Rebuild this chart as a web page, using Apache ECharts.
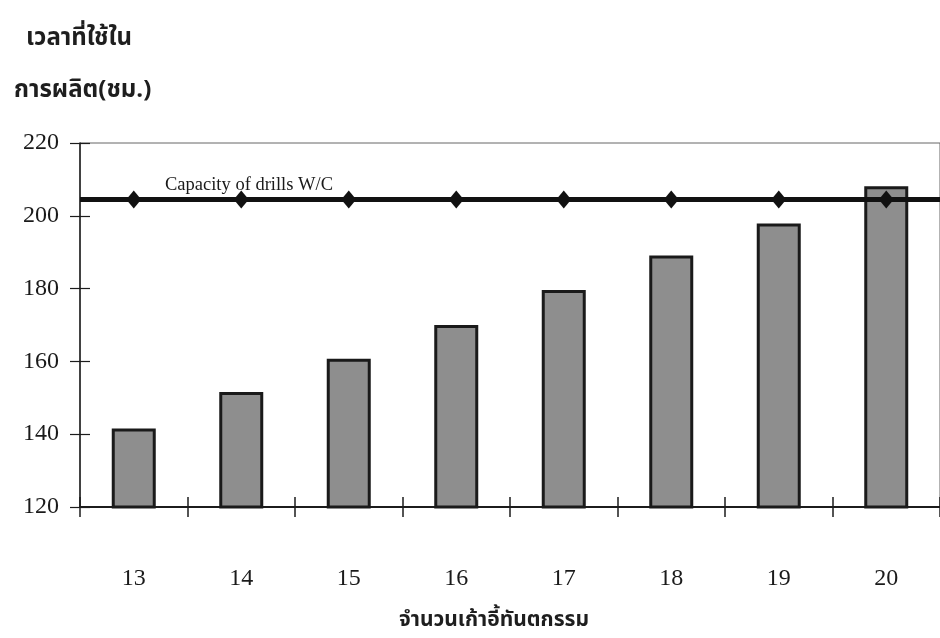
<!DOCTYPE html>
<html>
<head>
<meta charset="utf-8">
<script src="https://cdn.jsdelivr.net/npm/echarts@6/dist/echarts.min.js"></script>
<style>
  html, body { margin: 0; padding: 0; background: #fff; }
  #chart { width: 940px; height: 638px; }
</style>
</head>
<body>
<div id="chart"></div>
<script>
// Number of dental chairs on the x axis
const chairCounts = ['13', '14', '15', '16', '17', '18', '19', '20'];
// Production time required (hours) for each chair count
const productionHours = [141.6, 151.6, 160.7, 170, 179.6, 189.1, 197.9, 208.1];
// Available capacity of the drills work centre (hours)
const drillCapacity = [204.5, 204.5, 204.5, 204.5, 204.5, 204.5, 204.5, 204.5];
const capacityLabel = 'Capacity of drills W/C';
const yTitleLines = ['เวลาที่ใช้ใน', 'การผลิต(ชม.)'];
const xTitle = 'จำนวนเก้าอี้ทันตกรรม';

const serif = '"Liberation Serif", "Times New Roman", serif';
const thai = '"Noto Sans Thai", "Noto Sans", "DejaVu Sans", sans-serif';
const ink = '#1c1c1c';

const chart = echarts.init(document.getElementById('chart'), null, { renderer: 'canvas' });

const yAxisBase = { type: 'value', min: 120, max: 220, interval: 20 };

chart.setOption({
  backgroundColor: '#ffffff',
  animation: false,
  title: [
    { text: yTitleLines[0], left: 21, top: 23,
      textStyle: { fontFamily: thai, fontSize: 24, fontWeight: 'bold', color: '#1e1e1e' } },
    { text: yTitleLines[1], left: 9, top: 75,
      textStyle: { fontFamily: thai, fontSize: 24, fontWeight: 'bold', color: '#1e1e1e' } },
    { text: xTitle, left: 489, textAlign: 'center', top: 606,
      textStyle: { fontFamily: thai, fontSize: 21, fontWeight: 'bold', color: '#1e1e1e' } }
  ],
  grid: {
    left: 80, top: 143, width: 864, bottom: 131,
    show: true, borderColor: '#666', borderWidth: 1, backgroundColor: 'transparent'
  },
  xAxis: [
    {
      type: 'category', data: chairCounts, boundaryGap: true,
      axisLine: { lineStyle: { color: ink, width: 2 } },
      axisTick: { show: true, length: 10, lineStyle: { color: ink, width: 1.5 } },
      axisLabel: { margin: 60, fontFamily: serif, fontSize: 24, color: '#1a1a1a' },
      splitLine: { show: false }
    },
    {
      type: 'category', data: chairCounts, boundaryGap: true, position: 'bottom',
      axisLine: { show: false },
      axisTick: { show: true, inside: true, length: 10, lineStyle: { color: ink, width: 1.5 } },
      axisLabel: { show: false },
      splitLine: { show: false }
    }
  ],
  yAxis: [
    Object.assign({}, yAxisBase, {
      axisLine: { show: true, lineStyle: { color: ink, width: 1.5 } },
      axisTick: { show: true, length: 10, lineStyle: { color: ink, width: 1.2 } },
      axisLabel: { margin: 21, fontFamily: serif, fontSize: 24, color: '#1a1a1a' },
      splitLine: { show: false }
    }),
    Object.assign({}, yAxisBase, {
      position: 'left',
      axisLine: { show: false },
      axisTick: { show: true, inside: true, length: 10, lineStyle: { color: ink, width: 1.2 } },
      axisLabel: { show: false },
      splitLine: { show: false }
    })
  ],
  series: [
    {
      name: 'production',
      type: 'bar',
      data: productionHours,
      barWidth: 44,
      itemStyle: { color: '#8e8e8e', borderColor: '#1a1a1a', borderWidth: 3 },
      z: 2
    },
    {
      name: 'capacity',
      type: 'line',
      data: drillCapacity,
      symbol: 'diamond',
      symbolSize: [15, 18],
      itemStyle: { color: '#111' },
      lineStyle: { width: 0 },
      z: 4,
      markLine: {
        silent: true,
        symbol: 'none',
        data: [{ yAxis: drillCapacity[0] }],
        lineStyle: { color: '#111', width: 5, type: 'solid' },
        label: {
          show: true,
          position: 'insideStartTop',
          formatter: capacityLabel,
          distance: [85, 5],
          fontFamily: serif, fontSize: 18.5, color: '#1a1a1a'
        }
      }
    }
  ]
});
</script>
</body>
</html>
